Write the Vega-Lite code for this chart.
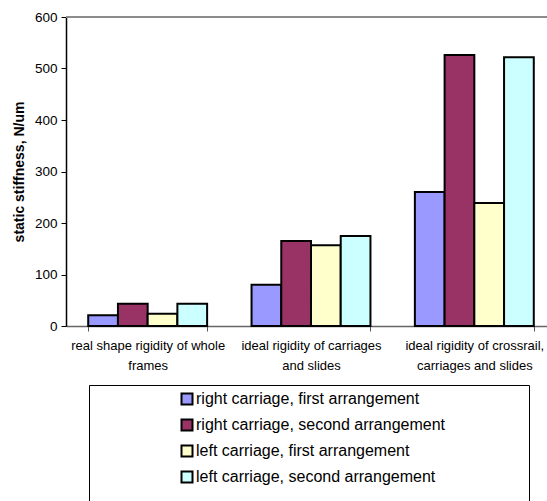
{
  "$schema": "https://vega.github.io/schema/vega-lite/v6.json",
  "width": 481,
  "height": 309,
  "autosize": {"type": "none"},
  "padding": {"left": 66, "top": 17, "right": 0, "bottom": 175},
  "background": "white",
  "config": {
    "font": "Liberation Sans",
    "view": {"stroke": null}
  },
  "data": {
    "values": [
      {"category": "real shape rigidity of whole frames", "series": "right carriage, first arrangement", "stiffness": 21},
      {"category": "real shape rigidity of whole frames", "series": "right carriage, second arrangement", "stiffness": 43},
      {"category": "real shape rigidity of whole frames", "series": "left carriage, first arrangement", "stiffness": 24},
      {"category": "real shape rigidity of whole frames", "series": "left carriage, second arrangement", "stiffness": 43},
      {"category": "ideal rigidity of carriages and slides", "series": "right carriage, first arrangement", "stiffness": 80},
      {"category": "ideal rigidity of carriages and slides", "series": "right carriage, second arrangement", "stiffness": 165},
      {"category": "ideal rigidity of carriages and slides", "series": "left carriage, first arrangement", "stiffness": 157},
      {"category": "ideal rigidity of carriages and slides", "series": "left carriage, second arrangement", "stiffness": 175},
      {"category": "ideal rigidity of crossrail, carriages and slides", "series": "right carriage, first arrangement", "stiffness": 260},
      {"category": "ideal rigidity of crossrail, carriages and slides", "series": "right carriage, second arrangement", "stiffness": 526},
      {"category": "ideal rigidity of crossrail, carriages and slides", "series": "left carriage, first arrangement", "stiffness": 239},
      {"category": "ideal rigidity of crossrail, carriages and slides", "series": "left carriage, second arrangement", "stiffness": 522}
    ]
  },
  "layer": [
    {
      "mark": {"type": "bar", "stroke": "black", "strokeWidth": 2},
      "encoding": {
        "x": {
          "field": "category",
          "type": "nominal",
          "sort": null,
          "scale": {"range": [0, 490], "paddingInner": 0.272, "paddingOuter": 0.136},
          "axis": {
            "title": null,
            "labelAngle": 0,
            "labelFont": "Liberation Sans",
            "labelFontSize": 13,
            "labelColor": "black",
            "labelLineHeight": 20,
            "labelBaseline": "top",
            "labelPadding": 8,
            "labelLimit": 300,
            "labelOverlap": false,
            "tickBand": "extent",
            "tickSize": 5,
            "tickColor": "#555555",
            "domainColor": "#666666",
            "domainWidth": 1.5,
            "labelExpr": "datum.value == 'real shape rigidity of whole frames' ? ['real shape rigidity of whole', 'frames'] : datum.value == 'ideal rigidity of carriages and slides' ? ['ideal rigidity of carriages', 'and slides'] : datum.value == 'ideal rigidity of crossrail, carriages and slides' ? ['ideal rigidity of crossrail,', 'carriages and slides'] : ''"
          }
        },
        "xOffset": {
          "field": "series",
          "type": "nominal",
          "scale": {
            "domain": ["right carriage, first arrangement", "right carriage, second arrangement", "left carriage, first arrangement", "left carriage, second arrangement"],
            "paddingInner": 0,
            "paddingOuter": 0
          }
        },
        "y": {
          "field": "stiffness",
          "type": "quantitative",
          "scale": {"domain": [0, 600], "nice": false},
          "axis": {
            "title": "static stiffness, N/um",
            "titleFont": "Liberation Sans",
            "titleFontSize": 14,
            "titleFontWeight": "bold",
            "titleColor": "black",
            "titlePadding": 8,
            "values": [0, 100, 200, 300, 400, 500, 600],
            "grid": false,
            "labelFont": "Liberation Sans",
            "labelFontSize": 13.5,
            "labelColor": "black",
            "labelPadding": 4,
            "tickSize": 5,
            "tickColor": "black",
            "domainColor": "black",
            "domainWidth": 1.5
          }
        },
        "color": {
          "field": "series",
          "type": "nominal",
          "scale": {
            "domain": ["right carriage, first arrangement", "right carriage, second arrangement", "left carriage, first arrangement", "left carriage, second arrangement"],
            "range": ["#9999FF", "#993366", "#FFFFCC", "#CCFFFF"]
          },
          "legend": {
            "orient": "none",
            "legendX": 23,
            "legendY": 368,
            "direction": "vertical",
            "fillColor": "white",
            "strokeColor": "black",
            "padding": 6,
            "symbolOffset": 84,
            "symbolType": "square",
            "symbolSize": 121,
            "symbolStrokeColor": "black",
            "symbolStrokeWidth": 2,
            "symbolOpacity": 1,
            "labelFont": "Liberation Sans",
            "labelFontSize": 16,
            "labelColor": "black",
            "labelOffset": 1,
            "labelLimit": 400,
            "rowPadding": 6,
            "title": " ",
            "titleOrient": "right",
            "titleFontSize": 120,
            "titlePadding": 78
          }
        }
      }
    },
    {
      "mark": {"type": "rule", "color": "#8c8c8c", "strokeWidth": 2},
      "encoding": {"y": {"datum": 600}}
    }
  ]
}
